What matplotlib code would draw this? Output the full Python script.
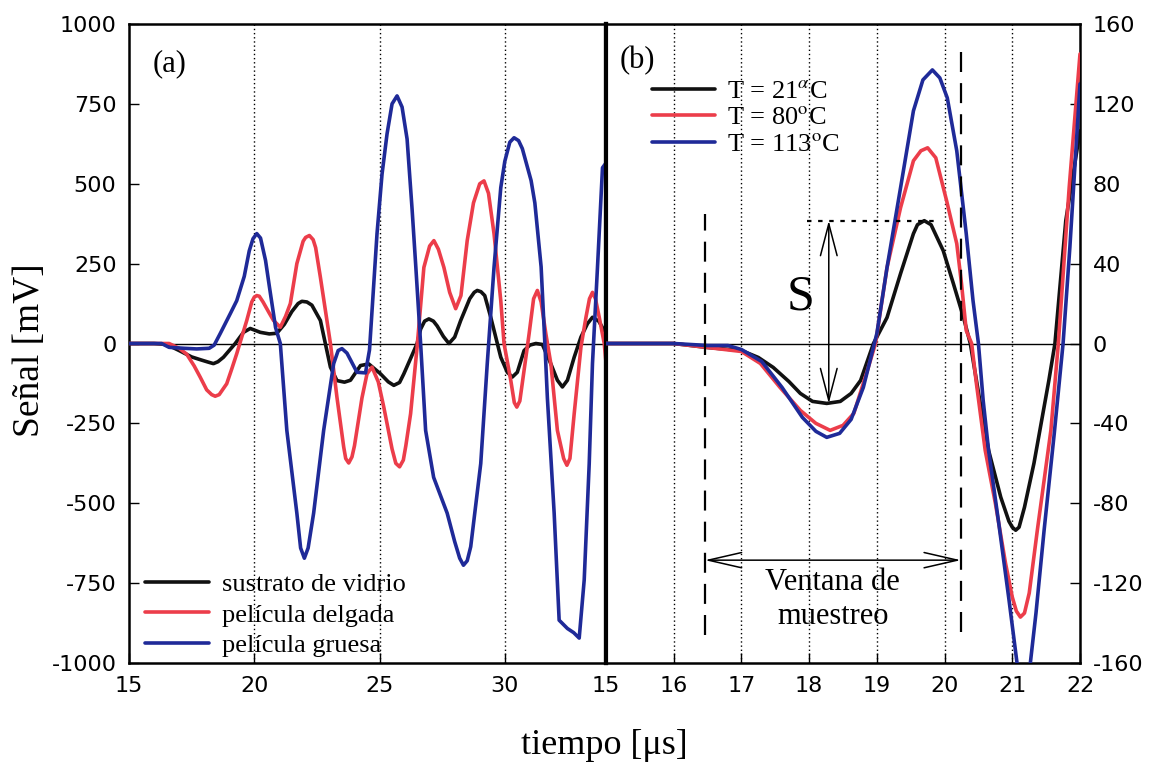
import matplotlib
matplotlib.use("Agg")
import matplotlib.pyplot as plt

# ---------------- data : panel (a) ----------------
t_a_black = [15.0, 16.0, 16.5, 17.0, 17.5, 17.9, 18.15, 18.37, 18.55, 18.77, 19.24, 19.57, 19.84, 20.24,
             20.6, 20.9, 21.2, 21.5, 21.75, 21.9, 22.1, 22.3, 22.64, 23.04, 23.3, 23.6, 23.84, 24.24,
             24.57, 25.04, 25.35, 25.57, 25.8, 25.97, 26.25, 26.5, 26.64, 26.8, 26.97, 27.15, 27.3,
             27.55, 27.77, 28.0, 28.24, 28.6, 28.78, 28.9, 29.05, 29.2, 29.44, 29.84, 30.1, 30.3,
             30.5, 30.77, 31.0, 31.24, 31.5, 31.84, 32.1, 32.3, 32.5, 32.77, 33.04, 33.3, 33.5,
             33.75, 33.97]
v_a_black = [0, 0, -3, -22, -42, -52, -58, -63, -57, -43, 0, 35, 47, 35,
             30, 32, 60, 100, 125, 132, 130, 120, 72, -74, -116, -121, -115, -69,
             -64, -95, -120, -131, -122, -95, -45, 0, 45, 70, 77, 70, 55,
             22, 0, 20, 72, 140, 160, 166, 162, 150, 82, -43, -90, -105,
             -90, -22, -5, 0, -3, -64, -115, -136, -115, -43, 20, 62, 82,
             70, 40]

t_a_red = [15.0, 16.6, 17.0, 17.3, 17.6, 17.84, 18.1, 18.3, 18.44, 18.6, 18.9, 19.1, 19.3, 19.5,
           19.7, 19.9, 20.0, 20.1, 20.2, 20.35, 20.6, 20.77, 21.04, 21.25, 21.44, 21.7, 21.95, 22.05,
           22.2, 22.35, 22.45, 22.64, 23.04, 23.3, 23.57, 23.65, 23.77, 23.9, 24.0, 24.3, 24.5,
           24.7, 24.95, 25.17, 25.5, 25.65, 25.8, 25.95, 26.05, 26.24, 26.5, 26.77, 27.0, 27.17,
           27.35, 27.57, 27.8, 28.04, 28.25, 28.5, 28.75, 29.0, 29.17, 29.35, 29.57, 29.84, 29.97,
           30.24, 30.38, 30.48, 30.6, 30.77, 30.97, 31.15, 31.3, 31.45, 31.64, 31.84, 32.1, 32.35,
           32.48, 32.6, 32.77, 33.04, 33.24, 33.38, 33.5, 33.62, 33.77, 33.97, 34.04]
v_a_red = [0, 0, -15, -33, -70, -105, -145, -160, -165, -160, -126, -80, -32, 20,
           72, 130, 145, 150, 148, 130, 95, 72, 51, 85, 125, 250, 320, 332,
           338, 325, 300, 207, 0, -168, -324, -360, -374, -355, -320, -170, -95,
           -74, -120, -199, -330, -375, -386, -365, -320, -220, -11, 238, 305, 322,
           295, 238, 160, 109, 150, 322, 440, 500, 509, 470, 344, 134, 0,
           -116, -185, -199, -180, -84, 30, 140, 166, 130, 30, -64, -272, -360,
           -381, -360, -220, -11, 82, 140, 160, 140, 82, 0, -60]

t_a_blue = [15.0, 16.3, 16.6, 17.2, 17.7, 18.2, 18.4, 18.64, 19.04, 19.3, 19.6, 19.8, 19.95, 20.1,
            20.25, 20.45, 20.6, 20.85, 21.04, 21.3, 21.7, 21.85, 22.0, 22.15, 22.37, 22.77, 23.17,
            23.35, 23.5, 23.7, 23.9, 24.1, 24.44, 24.6, 24.9, 25.1, 25.3, 25.5, 25.7, 25.9, 26.1,
            26.3, 26.45, 26.64, 26.84, 27.16, 27.7, 28.0, 28.2, 28.35, 28.5, 28.64, 29.04, 29.3,
            29.57, 29.84, 30.0, 30.2, 30.37, 30.55, 30.7, 31.05, 31.2, 31.45, 31.6, 31.7, 31.97,
            32.17, 32.5, 32.75, 32.97, 33.17, 33.37, 33.5, 33.7, 33.9, 34.04]
v_a_blue = [0, 0, -12, -15, -17, -15, -5, 31, 93, 134, 210, 290, 328, 344,
            330, 260, 180, 50, 0, -272, -531, -640, -672, -640, -531, -272, -63,
            -22, -16, -30, -60, -90, -92, -20, 344, 530, 656, 750, 775, 740, 640,
            420, 238, 0, -272, -419, -531, -620, -672, -694, -680, -636, -376, -63,
            238, 488, 570, 630, 644, 635, 610, 510, 440, 240, 0, -170, -530,
            -866, -892, -905, -922, -740, -376, -63, 238, 550, 565]

# ---------------- data : panel (b) ----------------
t_b_black = [15.0, 16.0, 16.5, 17.0, 17.25, 17.47, 17.7, 17.87, 18.05, 18.26, 18.46, 18.62, 18.76,
             18.95, 19.15, 19.35, 19.54, 19.6, 19.7, 19.8, 19.98, 20.13, 20.28, 20.38, 20.52, 20.65,
             20.83, 20.95, 21.0, 21.05, 21.1, 21.18, 21.32, 21.54, 21.63, 21.79, 22.0]
v_b_black = [0, 0, -2, -3.5, -7, -12, -19, -25, -29, -30, -29, -25, -18.5,
             0, 13, 35, 55, 59.5, 61.5, 59.5, 46.5, 30, 13, 0, -28.5, -53.5,
             -77, -89, -92, -93.5, -92, -82, -60, -18.5, 0, 61.5, 106.5]

t_b_red = [15.0, 16.0, 16.5, 17.0, 17.28, 17.57, 17.87, 18.1, 18.31, 18.5, 18.66, 18.86, 18.98,
           19.15, 19.35, 19.54, 19.65, 19.75, 19.87, 20.03, 20.18, 20.25, 20.32, 20.4, 20.47, 20.6,
           20.75, 20.9, 21.0, 21.06, 21.12, 21.18, 21.25, 21.37, 21.57, 21.68, 21.84, 22.0]
v_b_red = [0, 0, -2, -4, -10, -22, -33.5, -40, -43.5, -41, -35, -13.5, 0,
           38, 68, 91.5, 96.5, 98, 93, 71.5, 50, 30, 6.5, 0, -20, -53.5,
           -80, -110, -127, -134, -137, -135, -125, -93.5, -43.5, 0, 78, 145]

t_b_blue = [15.0, 16.0, 16.5, 16.8, 17.0, 17.3, 17.6, 17.9, 18.1, 18.26, 18.45, 18.62, 18.8,
            19.0, 19.15, 19.35, 19.54, 19.68, 19.82, 19.93, 20.04, 20.18, 20.32, 20.42, 20.5, 20.57,
            20.65, 20.8, 20.95, 21.07, 21.17, 21.25, 21.35, 21.47, 21.62, 21.75, 21.85, 22.0]
v_b_blue = [0, 0, -1, -1, -3, -9, -22, -37, -44, -47, -45, -38, -22,
            5, 38, 78, 116.5, 132, 137, 133, 123, 96.5, 55, 21.5, 0, -28.5,
            -53.5, -90, -128, -160, -175, -165, -135, -93.5, -45, 0, 48, 130]

labels_a = ["sustrato de vidrio", "película delgada", "película gruesa"]
labels_b = [r"T = 21$^{\alpha}$C", r"T = 80$^{\mathrm{o}}$C", r"T = 113$^{\mathrm{o}}$C"]

xticks_a = [15, 20, 25, 30]
yticks_a = [-1000, -750, -500, -250, 0, 250, 500, 750, 1000]
xticks_b = [15, 16, 17, 18, 19, 20, 21, 22]
yticks_b = [-160, -120, -80, -40, 0, 40, 80, 120, 160]

window = [16.46, 20.24]
s_x = 18.29
s_top = 61.5
s_bottom = -30

# ---------------- style ----------------
plt.rcParams['mathtext.fontset'] = 'stix'
plt.rcParams['axes.unicode_minus'] = False
SERIF = 'Liberation Serif'
SANS = 'DejaVu Sans'
C_BLACK = '#111111'
C_RED = '#ec3d4a'
C_BLUE = '#1f2a98'
LW = 2.6
LINE_KW = dict(lw=LW, zorder=3, solid_joinstyle='round', solid_capstyle='round')

fig = plt.figure(figsize=(11.55, 7.66), dpi=100)
W, H = 1155, 766
x0, xm, x1 = 129, 606, 1080
ytop, ybot = 24, 663
ax1 = fig.add_axes([x0 / W, 1 - ybot / H, (xm - x0) / W, (ybot - ytop) / H])
ax2 = fig.add_axes([xm / W, 1 - ybot / H, (x1 - xm) / W, (ybot - ytop) / H])

# panel (a)
ax1.axhline(0, color='black', lw=1.0, zorder=1)
for xv in xticks_a[1:]:
    ax1.axvline(xv, color='black', lw=1.0, ls=(0, (1, 2)), zorder=1)
ax1.plot(t_a_black, v_a_black, color=C_BLACK, label=labels_a[0], **LINE_KW)
ax1.plot(t_a_red, v_a_red, color=C_RED, label=labels_a[1], **LINE_KW)
ax1.plot(t_a_blue, v_a_blue, color=C_BLUE, label=labels_a[2], **LINE_KW)
ax1.set_xlim(15, 34.04)
ax1.set_ylim(-1000, 1000)
ax1.set_xticks(xticks_a)
ax1.set_yticks(yticks_a)
ax1.tick_params(direction='in', length=7, width=1, labelsize=16, pad=9, right=False, top=False)
for lab in ax1.get_xticklabels() + ax1.get_yticklabels():
    lab.set_fontfamily(SANS)
ax1.text(15.95, 875, "(a)", fontsize=22, family=SERIF, va='center', ha='left')
ax1.legend(loc='lower left', bbox_to_anchor=(-0.006, -0.02), frameon=False,
           prop={'family': SERIF, 'size': 19}, handlelength=2.45, handletextpad=0.5,
           labelspacing=0.27, borderaxespad=0.3)

# panel (b)
ax2.axhline(0, color='black', lw=1.0, zorder=1)
for xv in xticks_b[1:-1]:
    ax2.axvline(xv, color='black', lw=1.0, ls=(0, (1, 2)), zorder=1)
ax2.plot(t_b_black, v_b_black, color=C_BLACK, label=labels_b[0], **LINE_KW)
ax2.plot(t_b_red, v_b_red, color=C_RED, label=labels_b[1], **LINE_KW)
ax2.plot(t_b_blue, v_b_blue, color=C_BLUE, label=labels_b[2], **LINE_KW)
ax2.set_xlim(15, 22)
ax2.set_ylim(-160, 160)
ax2.set_xticks(xticks_b)
ax2.set_yticks(yticks_b)
ax2.yaxis.tick_right()
ax2.tick_params(direction='in', length=7, width=1, labelsize=16, pad=9, left=False, top=False)
for lab in ax2.get_xticklabels() + ax2.get_yticklabels():
    lab.set_fontfamily(SANS)
ax2.text(15.2, 141.5, "(b)", fontsize=22, family=SERIF, va='center', ha='left')
ax2.legend(loc='upper left', bbox_to_anchor=(0.075, 0.93), frameon=False,
           prop={'family': SERIF, 'size': 19}, handlelength=2.4, handletextpad=0.45,
           labelspacing=0.12, borderaxespad=0.0)

# sampling window
for xv, ylo, yhi in [(window[0], -146, 65), (window[1], -144.5, 148)]:
    ax2.plot([xv, xv], [ylo, yhi], color='black', lw=1.6, ls=(0, (9, 5)), zorder=4)
ax2.annotate('', xy=(window[0], -108.5), xytext=(window[1], -108.5),
             arrowprops=dict(arrowstyle='<->,head_length=2.4,head_width=0.55', lw=1.1,
                             color='black', shrinkA=0, shrinkB=0))
ax2.text(18.35, -128, "Ventana de\nmuestreo", fontsize=22, family=SERIF, ha='center',
         va='center', linespacing=1.22)

# S amplitude
ax2.plot([17.97, 19.91], [s_top, s_top], color='black', lw=1.6, ls=(0, (2, 3)), zorder=4)
ax2.annotate('', xy=(s_x, s_top), xytext=(s_x, s_bottom),
             arrowprops=dict(arrowstyle='<->,head_length=2.3,head_width=0.6', lw=1.1,
                             color='black', shrinkA=0, shrinkB=0))
ax2.text(17.87, 23, "S", fontsize=36, family=SERIF, ha='center', va='center')

# spines
for ax in (ax1, ax2):
    for sp in ax.spines.values():
        sp.set_linewidth(1.8)
ax1.spines['right'].set_linewidth(3.0)
ax2.spines['left'].set_linewidth(3.0)

fig.text(604 / W, 1 - 745 / H, "tiempo [μs]", fontsize=26, family=SERIF, ha='center', va='center')
fig.text(30 / W, 1 - 350 / H, "Señal [mV]", fontsize=27, family=SERIF, ha='center', va='center',
         rotation=90)

fig.savefig("out.png", dpi=100)
